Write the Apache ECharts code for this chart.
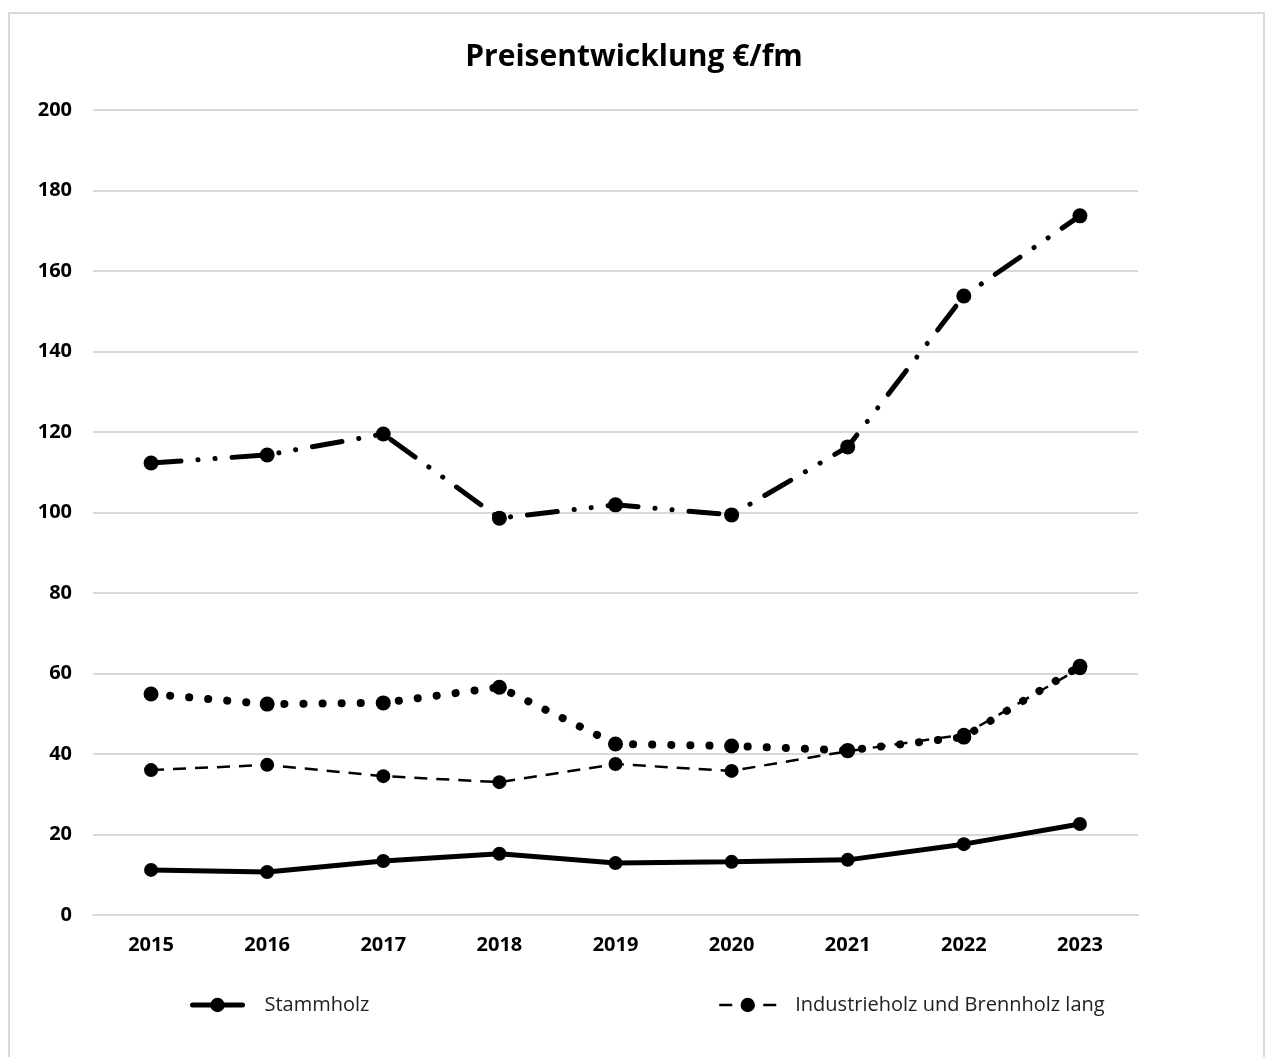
<!DOCTYPE html>
<html>
<head>
<meta charset="utf-8">
<script src="https://cdn.jsdelivr.net/npm/echarts@6/dist/echarts.min.js"></script>
<style>
  html, body { margin: 0; padding: 0; background: #fff; }
  #wrap { position: relative; width: 1268px; height: 1057px; overflow: hidden; }
  #frame { position: absolute; left: 8px; top: 12px; width: 1257px; height: 1060px; border: 2px solid #d9d9d9; box-sizing: border-box; }
  #chart { position: absolute; left: 0; top: 0; width: 1268px; height: 1057px; }
</style>
</head>
<body>
<div id="wrap">
  <div id="frame"></div>
  <div id="chart"></div>
</div>
<script>
// Jahre auf der x-Achse
const years = ['2015', '2016', '2017', '2018', '2019', '2020', '2021', '2022', '2023']

// Preise in €/fm
const stammholz = [11.2, 10.7, 13.4, 15.2, 12.9, 13.2, 13.7, 17.6, 22.6]
const industrieholz = [36.0, 37.3, 34.5, 33.0, 37.5, 35.8, 40.7, 44.8, 61.3]
const reihePunkt = [54.9, 52.4, 52.7, 56.6, 42.5, 42.0, 40.9, 44.2, 61.8]
const reiheStrichPunkt = [112.3, 114.3, 119.5, 98.6, 101.9, 99.4, 116.3, 153.8, 173.7]

const font = '"Open Sans", sans-serif'

const chart = echarts.init(document.getElementById('chart'))

chart.setOption({
  animation: false,
  backgroundColor: 'transparent',
  title: {
    text: 'Preisentwicklung €/fm',
    left: 'center',
    top: 37,
    textStyle: { fontFamily: font, fontSize: 30, fontWeight: 'bold', color: '#000' }
  },
  grid: { left: 93, right: 130, top: 110, bottom: 142 },
  legend: [
    {
      data: ['Stammholz'],
      left: 185,
      top: 990,
      itemWidth: 50,
      itemHeight: 18,
      lineStyle: { width: 5 },
      textStyle: { fontFamily: font, fontSize: 20, color: '#222', padding: [0, 0, 0, 17] }
    },
    {
      data: ['Industrieholz und Brennholz lang'],
      left: 713,
      top: 990,
      itemWidth: 57,
      itemHeight: 18,
      lineStyle: { width: 2.5 },
      textStyle: { fontFamily: font, fontSize: 20, color: '#222', padding: [0, 0, 0, 14] }
    }
  ],
  xAxis: {
    type: 'category',
    data: years,
    axisLine: { lineStyle: { color: '#d9d9d9', width: 2 } },
    axisTick: { show: false },
    axisLabel: { fontFamily: font, fontSize: 20, fontWeight: 'bold', color: '#000', margin: 20 }
  },
  yAxis: {
    type: 'value',
    min: 0,
    max: 200,
    interval: 20,
    axisLine: { show: false },
    axisTick: { show: false },
    axisLabel: { fontFamily: font, fontSize: 20, fontWeight: 'bold', color: '#000', margin: 21 },
    splitLine: { lineStyle: { color: '#d9d9d9', width: 2 } }
  },
  series: [
    {
      name: 'Reihe Strich-Punkt',
      type: 'line',
      data: reiheStrichPunkt,
      symbol: 'circle',
      symbolSize: 15,
      itemStyle: { color: '#000' },
      lineStyle: { color: '#000', width: 5, cap: 'round', type: [30, 17, 0.1, 17, 0.1, 17] }
    },
    {
      name: 'Reihe Punkt',
      type: 'line',
      data: reihePunkt,
      symbol: 'circle',
      symbolSize: 15,
      itemStyle: { color: '#000' },
      lineStyle: { color: '#000', width: 8, cap: 'round', type: [0.1, 19] }
    },
    {
      name: 'Industrieholz und Brennholz lang',
      type: 'line',
      data: industrieholz,
      symbol: 'circle',
      symbolSize: 14,
      itemStyle: { color: '#000' },
      lineStyle: { color: '#000', width: 2.5, type: [13, 9] }
    },
    {
      name: 'Stammholz',
      type: 'line',
      data: stammholz,
      symbol: 'circle',
      symbolSize: 14,
      itemStyle: { color: '#000' },
      lineStyle: { color: '#000', width: 5, cap: 'round' }
    }
  ]
})
</script>
</body>
</html>
